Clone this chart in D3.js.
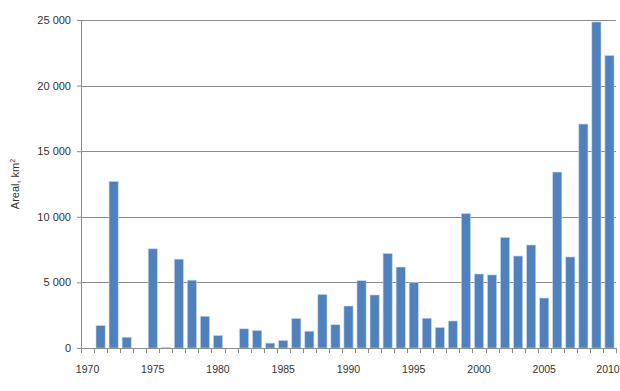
<!DOCTYPE html>
<html>
<head>
<meta charset="utf-8">
<script src="https://cdn.jsdelivr.net/npm/d3@7"></script>
<style>
  body { margin: 0; background: #fff; }
  text { font-family: "Liberation Sans", Arial, sans-serif; fill: #333; }
</style>
</head>
<body>
<svg class="chart"></svg>
<script>
// years on the x axis, one bar each
var years = d3.range(1970, 2011);
// areal, km2 (0 = no bar)
var areal = [
  0, 1700, 12700, 820, 0, 7560, 50, 6770, 5170, 2420,
  950, 0, 1460, 1330, 370, 570, 2250, 1280, 4080, 1770,
  3200, 5130, 4040, 7200, 6170, 4990, 2270, 1560, 2060, 10250,
  5640, 5570, 8420, 7010, 7850, 3810, 13410, 6940, 17070, 24850,
  22290
];
var yTicks = [0, 5000, 10000, 15000, 20000, 25000];
var xLabels = [1970, 1975, 1980, 1985, 1990, 1995, 2000, 2005, 2010];

var svgwidth = 620, svgheight = 391;
var margins = {top: 20, bottom: 43, left: 81, right: 4};
var width = svgwidth - margins.left - margins.right;
var height = svgheight - margins.top - margins.bottom;

var svg = d3.select('.chart')
            .attr('width', svgwidth)
            .attr('height', svgheight);

var g = svg.append('g')
           .attr('transform', 'translate(' + margins.left + ',' + margins.top + ')');

var xScale = d3.scaleBand()
               .domain(years)
               .range([0, width])
               .paddingInner(0.3)
               .paddingOuter(0.15);

var yScale = d3.scaleLinear()
               .domain([0, 25000])
               .range([height, 0]);

var fmt = function(v) {
  return d3.format(',')(v).replace(/,/g, ' ');
};

// gridlines
g.selectAll('.grid').data(yTicks.slice(1)).enter()
 .append('line')
 .attr('x1', 0).attr('x2', width)
 .attr('y1', function(d){ return Math.round(yScale(d)) + 0.5; })
 .attr('y2', function(d){ return Math.round(yScale(d)) + 0.5; })
 .attr('stroke', '#8c8c8c')
 .attr('stroke-width', 1);

// bars
g.selectAll('.bar').data(areal).enter()
 .append('rect')
 .attr('x', function(d, i){ return xScale(years[i]); })
 .attr('width', xScale.bandwidth())
 .attr('y', function(d){ return yScale(d); })
 .attr('height', function(d){ return height - yScale(d); })
 .attr('fill', '#4f81bd')
 .attr('stroke', '#c6d4ea')
 .attr('stroke-width', 0.6);

// y axis
var yAxis = d3.axisLeft(yScale)
              .tickValues(yTicks)
              .tickSize(4)
              .tickPadding(6)
              .tickFormat(fmt);

var ya = g.append('g').call(yAxis);
ya.select('.domain').attr('stroke', '#8c8c8c');
ya.selectAll('.tick line').attr('stroke', '#8c8c8c');
ya.selectAll('.tick text').style('font-size', '11px').attr('fill', '#333');

// x axis: ticks between categories
var xa = g.append('g').attr('transform', 'translate(0,' + height + ')');
xa.append('line')
  .attr('x1', 0).attr('x2', width)
  .attr('y1', 0.5).attr('y2', 0.5)
  .attr('stroke', '#8c8c8c');
xa.selectAll('.xt').data(d3.range(years.length + 1)).enter()
  .append('line')
  .attr('x1', function(i){ return Math.round(i * width / years.length) + 0.5; })
  .attr('x2', function(i){ return Math.round(i * width / years.length) + 0.5; })
  .attr('y1', 0).attr('y2', 5)
  .attr('stroke', '#8c8c8c');
xa.selectAll('.xl').data(xLabels).enter()
  .append('text')
  .attr('x', function(d){
    // keep the last label inside the window
    return Math.min(xScale(d) + xScale.bandwidth() / 2, width - 8);
  })
  .attr('y', 25)
  .attr('text-anchor', 'middle')
  .style('font-size', '10.5px')
  .text(function(d){ return d; });

// y title
var yt = svg.append('text')
   .attr('transform', 'translate(19,' + (margins.top + height / 2) + ') rotate(-90)')
   .attr('text-anchor', 'middle')
   .style('font-size', '11px');
yt.append('tspan').text('Areal, km');
yt.append('tspan').attr('dy', -4).style('font-size', '7px').text('2');
</script>
</body>
</html>
